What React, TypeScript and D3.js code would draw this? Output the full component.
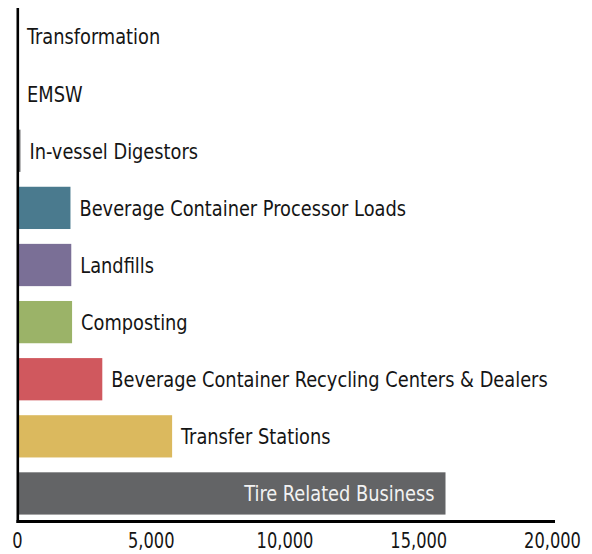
import React from "react";
import * as d3 from "d3";

const categories = [
  "Transformation",
  "EMSW",
  "In-vessel Digestors",
  "Beverage Container Processor Loads",
  "Landfills",
  "Composting",
  "Beverage Container Recycling Centers & Dealers",
  "Transfer Stations",
  "Tire Related Business",
];
const values = [20, 20, 110, 1980, 2010, 2040, 3170, 5780, 16000];
const colors = [
  "#d0585e",
  "#dbb95e",
  "#636466",
  "#4a7a8e",
  "#7a6f96",
  "#9bb368",
  "#d0585e",
  "#dbb95e",
  "#636466",
];
const ticks = [0, 5000, 10000, 15000, 20000];
const insideLabel = "Tire Related Business";

const W = 592;
const H = 554;
const FONT = "'DejaVu Sans Condensed', 'Liberation Sans Narrow', 'Arial Narrow', sans-serif";

export default function App() {
  const x = d3.scaleLinear().domain([0, 20000]).range([17.5, 552.5]);
  const y = d3
    .scaleBand<string>()
    .domain(categories)
    .range([8, 522])
    .paddingInner(0.26)
    .paddingOuter(0.13);
  const fmt = d3.format(",");
  const axisY = 521.5;
  return (
    <svg
      width={W}
      height={H}
      style={{ position: "absolute", left: 0, top: 0, display: "block", background: "#fff" }}
    >
      {categories.map((c, i) => {
        const yy = y(c)!;
        const bw = y.bandwidth();
        const x1 = x(values[i]);
        const inside = c === insideLabel;
        const tx = inside ? x1 - 11 : x1 + 9;
        const ty = yy + bw / 2;
        return (
          <g key={c}>
            <rect
              x={x(0)}
              y={yy}
              width={Math.max(0, x1 - x(0))}
              height={bw}
              fill={colors[i]}
            />
            <text
              transform={`translate(${tx},${ty}) scale(0.9,1)`}
              dy="0.36em"
              textAnchor={inside ? "end" : "start"}
              fontFamily={FONT}
              fontSize={22}
              fill={inside ? "#f2f2f2" : "#151515"}
            >
              {c}
            </text>
          </g>
        );
      })}
      <line x1={17.8} x2={17.8} y1={8} y2={axisY + 1.5} stroke="#000" strokeWidth={2.6} />
      <line x1={16.5} x2={555} y1={axisY} y2={axisY} stroke="#000" strokeWidth={2.8} />
      {ticks.map((t) => (
        <text
          key={t}
          transform={`translate(${x(t)},548) scale(0.86,1)`}
          textAnchor="middle"
          fontFamily={FONT}
          fontSize={21}
          fill="#151515"
        >
          {fmt(t)}
        </text>
      ))}
    </svg>
  );
}
